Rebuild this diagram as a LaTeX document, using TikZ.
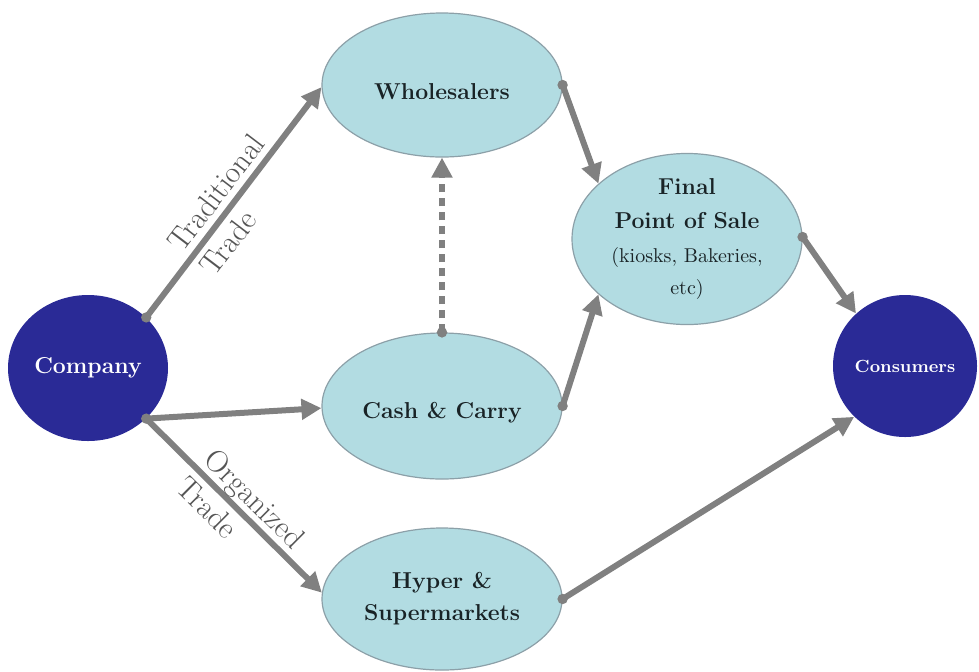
\documentclass[tikz,border=0pt]{standalone}
\usetikzlibrary{shapes.geometric,arrows.meta}
\definecolor{nodefill}{RGB}{178,220,226}
\definecolor{nodeline}{RGB}{140,160,168}
\definecolor{deepblue}{RGB}{42,42,150}
\definecolor{flowgray}{RGB}{128,128,128}
\definecolor{labelgray}{RGB}{85,85,85}
\definecolor{inktext}{RGB}{25,35,38}
\newcommand\remark[1]{{\fontsize{10}{13.5}\selectfont\mdseries #1}}
\begin{document}
\begin{tikzpicture}[x=0.5pt,y=-0.5pt,
  channel/.style={ellipse, draw=nodeline, line width=0.6pt, fill=nodefill,
    inner sep=0pt, minimum width=120pt, minimum height=72pt, align=center,
    text=inktext, font=\fontsize{11.5}{16}\selectfont\bfseries,
    execute at begin node={\rule{0pt}{15pt}}},
  party/.style={ellipse, fill=deepblue, inner sep=0pt, text=white},
  flow/.style={draw=flowgray, line width=3pt, -{Triangle[length=10pt,width=10pt]}},
  dotted flow/.style={flow, dash pattern=on 4pt off 3pt},
  tradelabel/.style={sloped, align=left, inner sep=0pt, text=labelgray,
    font=\fontsize{15.5}{20}\selectfont}
]
\useasboundingbox (0,0) rectangle (979,671);

% end points of the trade chain
\node[party, minimum width=80pt, minimum height=73pt,
  font=\fontsize{11.5}{14}\selectfont\bfseries] (company) at (88,368) {Company};
\node[party, minimum width=72pt, minimum height=71pt,
  font=\fontsize{8.8}{10}\selectfont\bfseries] (consumers) at (905,366) {Consumers};

% intermediate channels
\node[channel] (wholesalers) at (442,85) {Wholesalers};
\node[channel, minimum height=73pt] (cash) at (442,406) {Cash \& Carry};
\node[channel, minimum height=71pt] (hyper) at (442,599) {Hyper \&\\Supermarkets};
\node[channel, minimum width=115pt, minimum height=71pt] (pos) at (687,239)
  {Final\\[1pt]Point of Sale\\[1pt]\remark{(kiosks, Bakeries,}\\\remark{etc)}};

% flows
\draw[flow] (company.41) -- node[tradelabel, pos=0.49] {Traditional\\Trade} (wholesalers.181);
\draw[flow] (company.319) -- (cash.181);
\draw[flow] (company.319) -- node[tradelabel, pos=0.54] {Organized\\Trade} (hyper.177);
\draw[flow] (wholesalers.0) -- (pos.148);
\draw[dotted flow] (cash.90) -- (wholesalers.270);
\draw[flow] (cash.0) -- (pos.212);
\draw[flow] (pos.1) -- (consumers.133);
\draw[flow] (hyper.0) -- (consumers.225);

% start dots of the flows
\foreach \p in {company.41, company.319, wholesalers.0, cash.90, cash.0, pos.1, hyper.0}
  \fill[flowgray] (\p) circle (2.6pt);
\end{tikzpicture}
\end{document}
